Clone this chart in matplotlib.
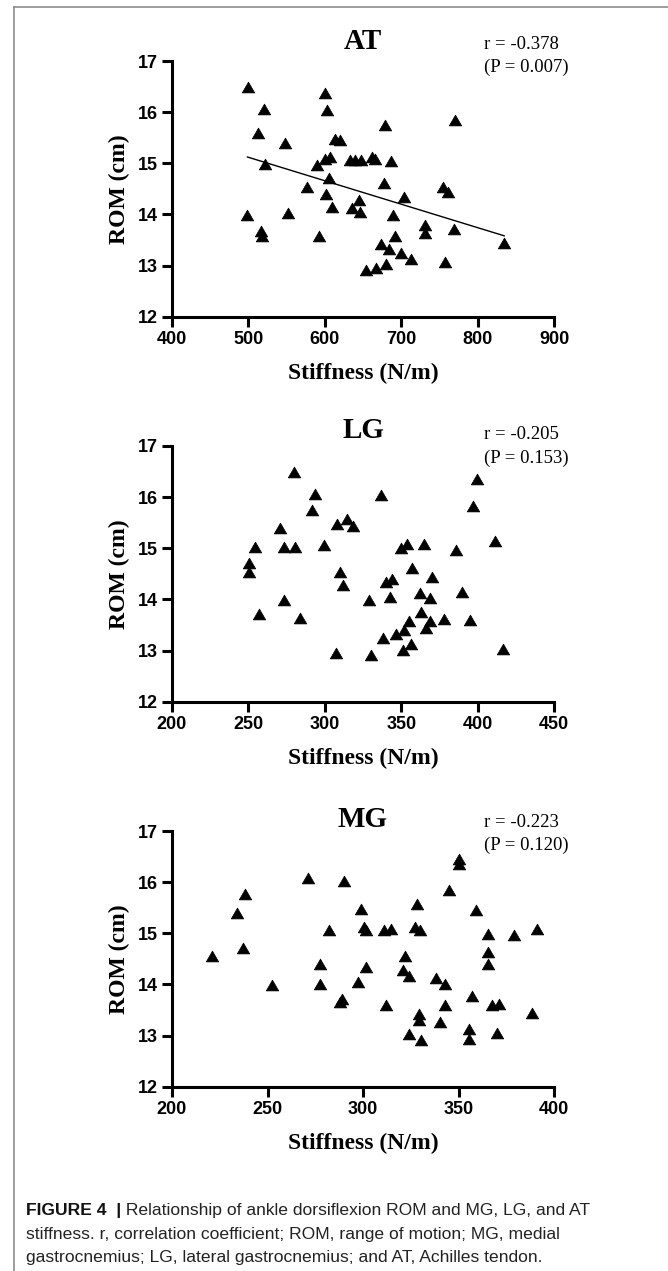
import numpy as np
import matplotlib
matplotlib.use('Agg')
import matplotlib.pyplot as plt
from matplotlib.lines import Line2D

# ROM vs stiffness
at_x = [499.6, 520.5, 512.7, 547.6, 522.3, 498.7, 516.6, 517.5, 552.4, 577.3,
        592.6, 590.4, 600.0, 603.5, 600.0, 606.6, 605.7, 601.7, 610.0, 613.5,
        620.5, 632.6, 640.0, 647.4, 661.7, 666.1, 679.1, 770.4, 687.0, 677.4,
        645.2, 635.7, 646.5, 703.9, 689.1, 755.2, 760.9, 692.2, 731.7, 731.7,
        769.1, 834.8, 673.9, 683.5, 700.0, 712.2, 757.8, 680.0, 667.4, 654.3]
at_y = [16.49, 16.07, 15.59, 15.39, 14.99, 13.99, 13.67, 13.58, 14.02, 14.54,
        13.58, 14.97, 16.37, 16.04, 15.08, 15.12, 14.72, 14.39, 14.15, 15.47,
        15.45, 15.06, 15.06, 15.06, 15.13, 15.08, 15.75, 15.85, 15.05, 14.61,
        14.29, 14.12, 14.04, 14.35, 13.99, 14.54, 14.43, 13.58, 13.79, 13.64,
        13.71, 13.45, 13.42, 13.32, 13.25, 13.12, 13.06, 13.03, 12.95, 12.91]

lg_x = [279.9, 293.6, 291.9, 270.8, 254.0, 273.0, 280.8, 299.7, 307.8, 250.1,
        250.1, 310.0, 311.9, 273.0, 256.8, 283.8, 307.1, 399.9, 397.1, 336.7,
        314.3, 318.7, 411.7, 349.8, 354.0, 364.8, 385.7, 356.8, 369.9, 340.0,
        344.2, 329.1, 342.8, 362.4, 368.8, 389.9, 362.7, 355.0, 368.8, 377.9,
        394.9, 352.0, 366.0, 337.8, 346.5, 356.1, 350.9, 416.7, 330.0]
lg_y = [16.49, 16.07, 15.75, 15.39, 15.03, 15.03, 15.03, 15.06, 15.47, 14.71,
        14.53, 14.53, 14.28, 13.99, 13.71, 13.64, 12.95, 16.35, 15.83, 16.04,
        15.57, 15.44, 15.15, 15.00, 15.08, 15.08, 14.97, 14.62, 14.43, 14.35,
        14.39, 13.99, 14.05, 14.12, 14.02, 14.14, 13.76, 13.58, 13.58, 13.62,
        13.59, 13.41, 13.45, 13.25, 13.32, 13.13, 13.02, 13.04, 12.91]

mg_x = [221.1, 234.2, 238.2, 237.2, 252.4, 271.4, 290.2, 282.2, 277.3, 277.3,
        288.8, 288.1, 350.1, 350.1, 345.2, 328.3, 359.2, 299.1, 300.5, 301.5,
        311.2, 314.5, 327.1, 330.0, 365.3, 379.2, 391.2, 365.3, 365.3, 301.4,
        322.2, 320.8, 324.3, 297.2, 338.1, 343.1, 357.2, 367.4, 371.2, 312.2,
        343.1, 329.3, 329.3, 340.1, 355.3, 355.3, 370.2, 324.3, 330.2, 388.4]
mg_y = [14.55, 15.40, 15.76, 14.72, 13.99, 16.09, 16.03, 15.06, 14.39, 14.01,
        13.72, 13.65, 16.46, 16.36, 15.84, 15.58, 15.45, 15.48, 15.13, 15.06,
        15.06, 15.09, 15.13, 15.06, 14.98, 14.96, 15.08, 14.63, 14.40, 14.35,
        14.55, 14.29, 14.16, 14.04, 14.13, 14.00, 13.77, 13.59, 13.62, 13.59,
        13.59, 13.43, 13.31, 13.26, 13.12, 12.94, 13.05, 13.03, 12.92, 13.45]

titles = ["AT", "LG", "MG"]
r_text = ["r = -0.378", "r = -0.205", "r = -0.223"]
p_text = ["(P = 0.007)", "(P = 0.153)", "(P = 0.120)"]
x_ticks = [[400, 500, 600, 700, 800, 900],
           [200, 250, 300, 350, 400, 450],
           [200, 250, 300, 350, 400]]
y_ticks = [12, 13, 14, 15, 16, 17]

W, H = 668, 1271
fig = plt.figure(figsize=(W / 100, H / 100), dpi=100)

# equilateral-ish triangle marker
tri = [(-1, -0.866), (1, -0.866), (0, 0.866), (-1, -0.866)]

serif = 'Liberation Serif'
sans = 'Liberation Sans'

data = [(at_x, at_y), (lg_x, lg_y), (mg_x, mg_y)]
tops = [61, 446, 831]
ax_h = 255.7
# pixel offsets of title / r / P baselines relative to the axes top
offs = [(12, 12, 11), (7.7, 6.7, 16.7), (4, 4, 19)]

for i in range(3):
    x, y = data[i]
    top = tops[i]
    ax = fig.add_axes([172 / W, 1 - (top + ax_h) / H, 382 / W, ax_h / H])
    ax.plot(x, y, linestyle='none', marker=tri, ms=9, color='black',
            markeredgewidth=0.5)
    if i == 0:
        k, b = np.polyfit(x, y, 1)
        xx = np.array([min(x), max(x)])
        ax.plot(xx, k * xx + b, color='black', lw=1.0)
    xt = x_ticks[i]
    ax.set_xlim(xt[0], xt[-1])
    ax.set_ylim(12, 17)
    ax.set_xticks(xt)
    ax.set_yticks(y_ticks)
    for s in ['top', 'right']:
        ax.spines[s].set_visible(False)
    for s in ['left', 'bottom']:
        ax.spines[s].set_linewidth(2.2)
    ax.tick_params(width=2.2, length=7, labelsize=13, pad=3)
    for lab in ax.get_xticklabels() + ax.get_yticklabels():
        lab.set_fontfamily(sans)
        lab.set_fontweight('bold')
    ax.set_xlabel('Stiffness (N/m)', fontfamily=serif, fontweight='bold',
                  fontsize=17, labelpad=11)
    ax.set_ylabel('ROM (cm)', fontfamily=serif, fontweight='bold',
                  fontsize=17, labelpad=6)
    t_off, r_off, p_off = offs[i]
    ax.text(0.5, 1 + t_off / ax_h, titles[i], transform=ax.transAxes,
            ha='center', va='baseline', fontfamily=serif, fontweight='bold',
            fontsize=21)
    ax.text(0.816, 1 + r_off / ax_h, r_text[i], transform=ax.transAxes,
            ha='left', va='baseline', fontfamily=serif, fontsize=13.5)
    ax.text(0.816, 1 - p_off / ax_h, p_text[i], transform=ax.transAxes,
            ha='left', va='baseline', fontfamily=serif, fontsize=13.5)

# frame lines around the figure panel
fig.add_artist(Line2D([14 / W, 14 / W], [0, 1 - 7 / H], color='#8c8c8c', lw=1.2))
fig.add_artist(Line2D([14 / W, 1], [1 - 7 / H, 1 - 7 / H], color='#8c8c8c', lw=1.2))

# caption
cap_rest = [" Relationship of ankle dorsiflexion ROM and MG, LG, and AT",
            "stiffness. r, correlation coefficient; ROM, range of motion; MG, medial",
            "gastrocnemius; LG, lateral gastrocnemius; and AT, Achilles tendon."]
cap_fs = 12.6
t0 = fig.text(26 / W, 1 - 1215 / H, "FIGURE 4  |", fontfamily=sans,
              fontweight='bold', fontsize=cap_fs, va='baseline', color='#111111')
fig.canvas.draw()
bb = t0.get_window_extent()
fig.text(bb.x1 / W, 1 - 1215 / H, cap_rest[0], fontfamily=sans, fontsize=cap_fs,
         va='baseline', color='#222222')
fig.text(26 / W, 1 - 1238.5 / H, cap_rest[1], fontfamily=sans, fontsize=cap_fs,
         va='baseline', color='#222222')
fig.text(26 / W, 1 - 1262 / H, cap_rest[2], fontfamily=sans, fontsize=cap_fs,
         va='baseline', color='#222222')

fig.savefig('out.png', dpi=100, facecolor='white')
